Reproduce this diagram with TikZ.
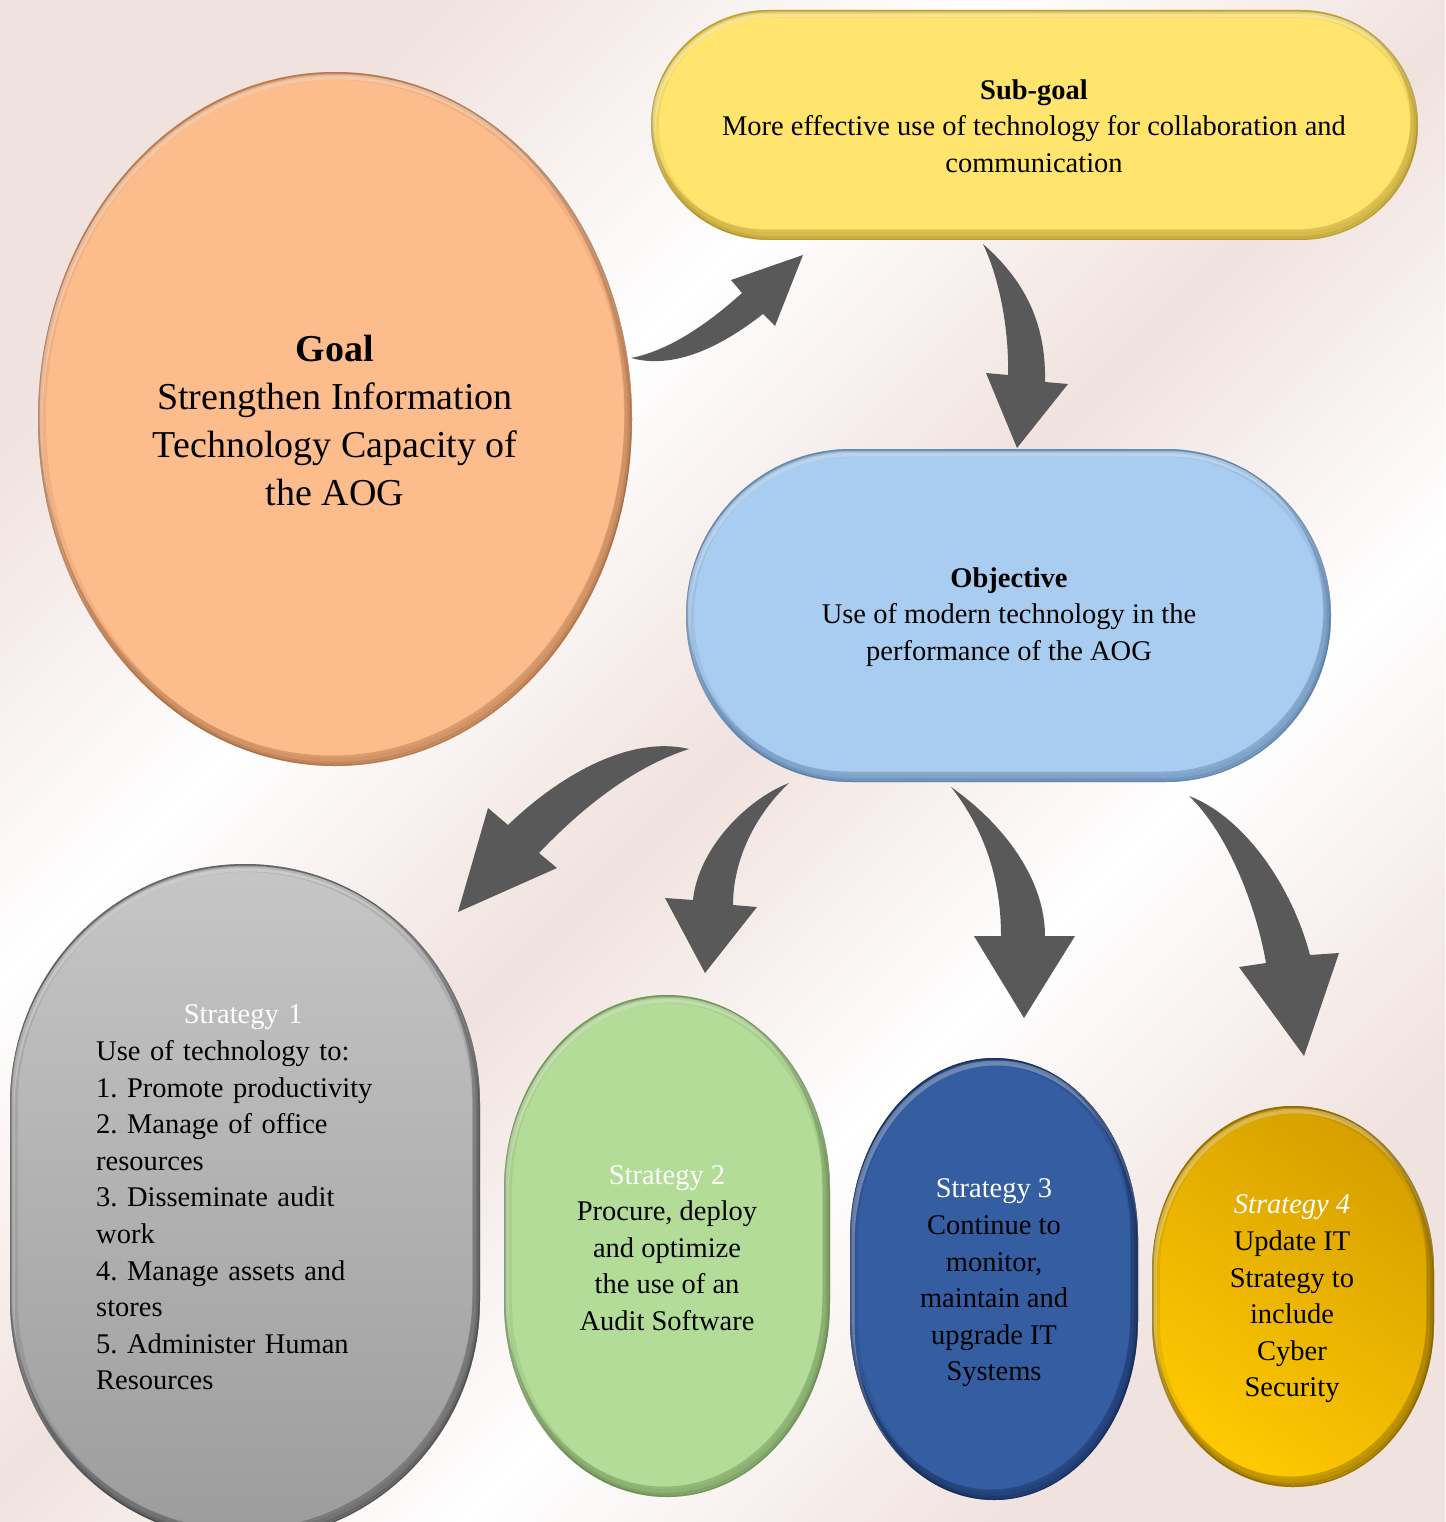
\documentclass[tikz,border=0pt]{standalone}
\usepackage{fontspec}
\setmainfont{Liberation Serif}
\frenchspacing

\definecolor{bgpink}{HTML}{F0E2DE}
\definecolor{arrowgray}{HTML}{595959}
\definecolor{goalfill}{HTML}{FDBC8C}
\definecolor{goaledge}{HTML}{9A6038}
\definecolor{subfill}{HTML}{FFE56E}
\definecolor{subedge}{HTML}{A08420}
\definecolor{objfill}{HTML}{A9CDF1}
\definecolor{objedge}{HTML}{4A6C95}
\definecolor{sonetop}{HTML}{C6C6C6}
\definecolor{sonebot}{HTML}{9C9C9C}
\definecolor{soneedge}{HTML}{3A3A3A}
\definecolor{stwofill}{HTML}{B3DC98}
\definecolor{stwoedge}{HTML}{5A7A42}
\definecolor{sthreefill}{HTML}{355DA1}
\definecolor{sthreeedge}{HTML}{0E224A}
\definecolor{sfourlight}{HTML}{FFC902}
\definecolor{sfourdark}{HTML}{D6A000}
\definecolor{sfouredge}{HTML}{735500}

\pgfdeclarehorizontalshading{bgshade}{100bp}{color(0bp)=(bgpink); color(25bp)=(bgpink); color(38bp)=(white); color(50bp)=(bgpink); color(62bp)=(white); color(75bp)=(bgpink); color(100bp)=(bgpink)}

% capsule path: cx cy halfwidth halfheight cornerrx cornerry
\newcommand\capsule[6]{(#1-#3,#2-#4+#6) .. controls (#1-#3,#2-#4+0.4477*#6) and (#1-#3+0.4477*#5,#2-#4) .. (#1-#3+#5,#2-#4)
 -- (#1+#3-#5,#2-#4) .. controls (#1+#3-0.4477*#5,#2-#4) and (#1+#3,#2-#4+0.4477*#6) .. (#1+#3,#2-#4+#6)
 -- (#1+#3,#2+#4-#6) .. controls (#1+#3,#2+#4-0.4477*#6) and (#1+#3-0.4477*#5,#2+#4) .. (#1+#3-#5,#2+#4)
 -- (#1-#3+#5,#2+#4) .. controls (#1-#3+0.4477*#5,#2+#4) and (#1-#3,#2+#4-0.4477*#6) .. (#1-#3,#2+#4-#6)
 -- cycle}

% bevel: path, edge colour
\newcommand\bevel[2]{%
 \begin{scope}
  \clip #1;
  \draw[line width=16pt, #2, opacity=0.12] #1;
  \draw[line width=8pt, #2, opacity=0.25] #1;
  \draw[line width=3pt, #2, opacity=0.55] #1;
  \begin{scope}[shift={(2,5)}] \draw[line width=5pt, white, opacity=0.3] #1; \end{scope}
  \begin{scope}[shift={(-3,-6)}] \draw[line width=9pt, #2, opacity=0.35] #1; \end{scope}
 \end{scope}}

\begin{document}
\begin{tikzpicture}[x=1pt,y=-1pt,
  body/.style={align=center, inner sep=0pt, text=black, font=\fontsize{28.5}{36.6}\selectfont},
  goalfont/.style={font=\fontsize{38}{48}\selectfont},
  blockarrow/.style={fill=arrowgray}]
\useasboundingbox (0,0) rectangle (1445,1522);
\clip (0,0) rectangle (1445,1522);
\shade[shading=bgshade, shading angle=-45] (0,0) rectangle (1445,1522);

% shapes
\fill[goalfill] (335,419) ellipse [x radius=297, y radius=347];
\bevel{(335,419) ellipse [x radius=297, y radius=347]}{goaledge}

\fill[subfill] \capsule{1034.5}{125}{383.5}{115}{118}{115};
\bevel{\capsule{1034.5}{125}{383.5}{115}{118}{115}}{subedge}

\fill[objfill] \capsule{1008.5}{615.5}{322.5}{166.5}{165}{166.5};
\bevel{\capsule{1008.5}{615.5}{322.5}{166.5}{165}{166.5}}{objedge}

\shade[top color=sonetop, bottom color=sonebot] \capsule{245}{1202}{235}{338}{235}{240};
\bevel{\capsule{245}{1202}{235}{338}{235}{240}}{soneedge}

\fill[stwofill] \capsule{667}{1246}{163}{251}{163}{195};
\bevel{\capsule{667}{1246}{163}{251}{163}{195}}{stwoedge}

\fill[sthreefill] \capsule{994}{1279}{144}{221}{144}{180};
\bevel{\capsule{994}{1279}{144}{221}{144}{180}}{sthreeedge}

\shade[top color=sfourdark, bottom color=sfourlight, shading angle=-35] \capsule{1293}{1296.5}{141}{190.5}{141}{165};
\bevel{\capsule{1293}{1296.5}{141}{190.5}{141}{165}}{sfouredge}

% block arrows
\fill[blockarrow] (631,358) .. controls (675,370) and (722,346) .. (763,314) -- (775,326) -- (803,255) -- (731,280) -- (742,293) .. controls (712,320) and (672,350) .. (631,358) -- cycle;
\fill[blockarrow] (983,244) .. controls (1030,285) and (1046,330) .. (1045,382) -- (1068,384) -- (1017,448) -- (986,373) -- (1008,375) .. controls (1009,330) and (1000,280) .. (983,244) -- cycle;
\fill[blockarrow] (689,749) .. controls (630,735) and (560,775) .. (508,825) -- (488,808) -- (458,912) -- (557,868) -- (539,853) .. controls (578,812) and (630,768) .. (689,749) -- cycle;
\fill[blockarrow] (789,783) .. controls (745,800) and (698,850) .. (693,900) -- (665,898) -- (705,973) -- (757,907) -- (733,905) .. controls (733,860) and (755,815) .. (789,783) -- cycle;
\fill[blockarrow] (951,787) .. controls (1005,825) and (1045,880) .. (1045,936) -- (1075,936) -- (1024,1018) -- (974,936) -- (1001,936) .. controls (1001,880) and (985,830) .. (951,787) -- cycle;
\fill[blockarrow] (1189,796) .. controls (1240,815) and (1290,880) .. (1310,955) -- (1339,953) -- (1304,1056) -- (1239,967) -- (1266,963) .. controls (1255,900) and (1225,830) .. (1189,796) -- cycle;

% texts
\node[body, goalfont] (goal) at (335,420) {\textbf{Goal}\\Strengthen Information\\Technology Capacity of\\the AOG};
\node[body] (subgoal) at (1034,126) {\textbf{Sub-goal}\\More effective use of technology for collaboration and\\communication};
\node[body] (objective) at (1009,617) {\textbf{Objective}\\Use of modern technology in the\\performance of the AOG};
\node[body, align=left, text width=300pt, anchor=west] (sone) at (96,1197.5) {\makebox[294pt]{\color{white}Strategy 1}\\Use of technology to:\\1. Promote productivity\\2. Manage of office\\resources\\3. Disseminate audit\\work\\4. Manage assets and\\stores\\5. Administer Human\\Resources};
\node[body] (stwo) at (667,1248) {{\color{white}Strategy 2}\\Procure, deploy\\and optimize\\the use of an\\Audit Software};
\node[body] (sthree) at (994,1283) {{\color{white}Strategy 3}\\Continue to\\monitor,\\maintain and\\upgrade IT\\Systems};
\node[body] (sfour) at (1292,1299) {{\color{white}\itshape Strategy 4}\\Update IT\\Strategy to\\include\\Cyber\\Security};
\end{tikzpicture}
\end{document}
